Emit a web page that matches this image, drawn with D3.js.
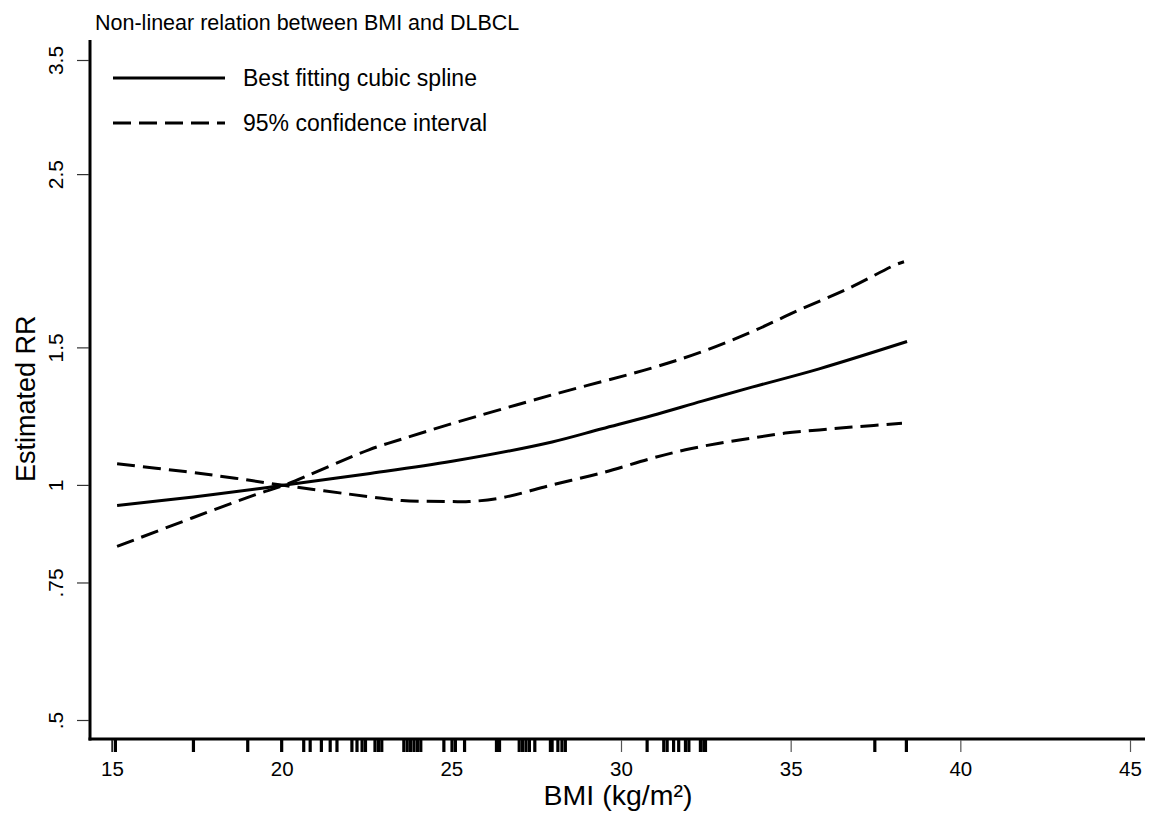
<!DOCTYPE html>
<html><head><meta charset="utf-8">
<script src="https://cdn.jsdelivr.net/npm/d3@7"></script>
<style>body{margin:0;background:#fff}svg{display:block}text{font-family:"Liberation Sans",Arial,sans-serif}</style>
</head><body>
<svg id="c" width="1150" height="821"></svg>
<script>
// ---- data ----
const title = "Non-linear relation between BMI and DLBCL";
const xTicks = [15, 20, 25, 30, 35, 40, 45];
const yTicks = [0.5, 0.75, 1, 1.5, 2.5, 3.5];
const yTickLabels = [".5", ".75", "1", "1.5", "2.5", "3.5"];
const splineBMI = [15.15, 17.4, 19.42, 20.1, 22.5, 25.02, 27.97, 29.44, 30.92, 32.39, 33.86, 35.84, 38.43];
const splineRR  = [0.941, 0.965, 0.990, 1.0, 1.033, 1.072, 1.135, 1.180, 1.227, 1.280, 1.334, 1.408, 1.526];
const upperBMI = [15.15, 17.36, 19.21, 20.1, 22.57, 23.55, 25.02, 27.97, 30.92, 32.39, 33.86, 35.25, 36.72, 38.08, 38.34];
const upperRR  = [0.834, 0.907, 0.971, 1.0, 1.109, 1.145, 1.198, 1.304, 1.412, 1.481, 1.571, 1.675, 1.786, 1.913, 1.931];
const lowerBMI = [15.15, 17.15, 18.63, 20.1, 22.57, 23.55, 25.02, 25.52, 26.5, 27.97, 29.44, 30.92, 31.9, 32.9, 33.86, 34.84, 35.84, 36.81, 38.28];
const lowerRR  = [1.064, 1.040, 1.020, 0.998, 0.966, 0.955, 0.952, 0.952, 0.963, 1.0, 1.036, 1.082, 1.109, 1.131, 1.148, 1.165, 1.176, 1.186, 1.199];
const rugBMI = [15.0, 15.1, 17.4, 19.0, 20.0, 20.65, 20.84, 21.17, 21.43, 21.63, 22.07, 22.22, 22.37, 22.47,
  22.75, 22.85, 22.95, 23.6, 23.7, 23.8, 23.9, 24.0, 24.1, 24.78, 25.02, 25.12, 25.39,
  26.33, 26.42, 27.0, 27.1, 27.2, 27.3, 27.46, 27.92, 27.97, 28.14, 28.26, 28.36,
  30.77, 31.26, 31.36, 31.55, 31.7, 31.9, 32.0, 32.34, 32.44, 32.49, 37.48, 38.41];
const legendLabels = ["Best fitting cubic spline", "95% confidence interval"];

// ---- layout ----
const svg = d3.select("#c");
const x = d3.scaleLinear().domain([15, 45]).range([112, 1130]);
const y = d3.scaleLog().domain([0.5, 3.5]).range([720, 60]);
const axY = 739, axX = 90;
const FF = '"Liberation Sans",Arial,sans-serif';

// title
svg.append("text").attr("x", 95).attr("y", 30).style("font-size", "21.5px").attr("fill", "#000").text(title);

// axes lines
svg.append("line").attr("x1", axX).attr("x2", axX).attr("y1", 40).attr("y2", axY + 1.5)
  .attr("stroke", "#000").attr("stroke-width", 3);
svg.append("line").attr("x1", axX - 1.5).attr("x2", 1145).attr("y1", axY).attr("y2", axY)
  .attr("stroke", "#000").attr("stroke-width", 3);

// x axis ticks via d3 axis
const xg = svg.append("g").attr("transform", `translate(0,${axY + 1})`)
  .call(d3.axisBottom(x).tickValues(xTicks).tickSize(12).tickPadding(9).tickFormat(d3.format("d")));
xg.select(".domain").remove();
xg.selectAll(".tick line").attr("stroke", "#555").attr("stroke-width", 1.2);
xg.selectAll(".tick text").style("font-size", "20.5px").attr("fill", "#000").style("font-family", FF);

// rug
svg.append("g").selectAll("line").data(rugBMI).join("line")
  .attr("x1", d => x(d)).attr("x2", d => x(d))
  .attr("y1", axY + 1).attr("y2", axY + 13)
  .attr("stroke", "#000").attr("stroke-width", (d, i) => i === 0 ? 1.2 : 3.2);

// y axis ticks
const yg = svg.append("g").attr("transform", `translate(${axX - 1},0)`)
  .call(d3.axisLeft(y).tickValues(yTicks).tickSize(12).tickFormat((d, i) => yTickLabels[i]));
yg.select(".domain").remove();
yg.selectAll(".tick line").attr("stroke", "#333").attr("stroke-width", 1.2);
yg.selectAll(".tick text").style("font-size", "21px").attr("fill", "#000")
  .style("font-family", FF)
  .attr("text-anchor", "middle").attr("dy", null)
  .attr("x", 0).attr("y", 0)
  .attr("transform", "translate(-26,0) rotate(-90)");

// axis titles
svg.append("text").attr("x", 618).attr("y", 805).attr("text-anchor", "middle")
  .style("font-size", "28.5px").attr("fill", "#000").text("BMI (kg/m²)");
svg.append("text").attr("transform", "translate(35,482) rotate(-90)").attr("text-anchor", "start")
  .style("font-size", "27px").attr("fill", "#000").text("Estimated RR");

// curves
const line = d3.line().x(d => x(d[0])).y(d => y(d[1])).curve(d3.curveCatmullRom.alpha(0.5));
const pts = (a, b) => a.map((v, i) => [v, b[i]]);
svg.append("path").attr("d", line(pts(splineBMI, splineRR))).attr("fill", "none")
  .attr("stroke", "#000").attr("stroke-width", 3);
[pts(upperBMI, upperRR), pts(lowerBMI, lowerRR)].forEach(p => {
  svg.append("path").attr("d", line(p)).attr("fill", "none")
    .attr("stroke", "#000").attr("stroke-width", 3).attr("stroke-dasharray", "18,8");
});

// legend
const lg = svg.append("g");
[0, 1].forEach(i => {
  const ly = 78 + i * 45;
  lg.append("line").attr("x1", 113).attr("x2", 225).attr("y1", ly).attr("y2", ly)
    .attr("stroke", "#000").attr("stroke-width", 3.2).attr("stroke-dasharray", i ? "18,8" : null);
  lg.append("text").attr("x", 243).attr("y", ly + 8).style("font-size", "23px").attr("fill", "#000").text(legendLabels[i]);
});
</script>
</body></html>
